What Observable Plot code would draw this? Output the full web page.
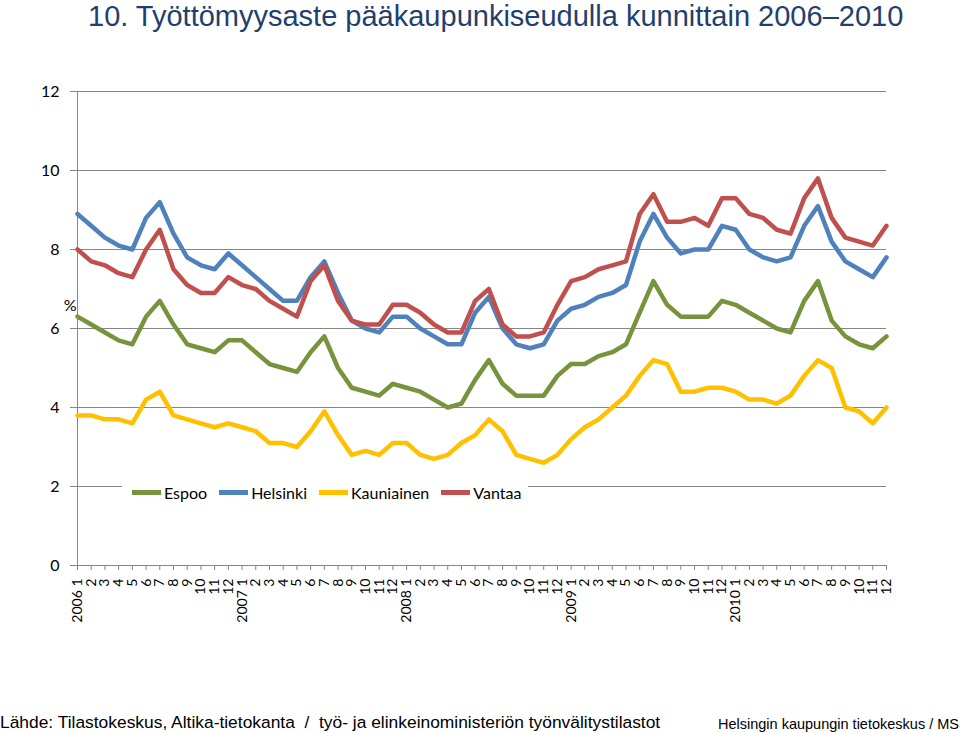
<!DOCTYPE html>
<html><head><meta charset="utf-8">
<script src="https://cdn.jsdelivr.net/npm/d3@7"></script>
<script src="https://cdn.jsdelivr.net/npm/@observablehq/plot@0.6"></script>
<style>
body{margin:0;background:#fff;width:960px;height:733px;position:relative;overflow:hidden;font-family:"Liberation Sans",Arial,sans-serif}
#title{position:absolute;left:88px;top:0;font-size:29px;line-height:32px;color:#1F3F6E;white-space:nowrap}
#chart{position:absolute;left:0;top:50px}
#legend{position:absolute;left:122px;top:479px;width:406px;height:26px;background:#fff;display:flex;align-items:center;font-family:Lato,"Open Sans",sans-serif;font-size:16px;color:#000}
.item{display:flex;align-items:center;margin-left:12px}
.item:first-child{margin-left:10px}
.sw{width:29px;height:5px;margin-right:3px}
#src{position:absolute;left:0;top:714px;font-size:17.4px;line-height:17.4px;white-space:nowrap;color:#000}
#org{position:absolute;left:718px;top:717px;font-size:14.5px;line-height:14.5px;white-space:nowrap;color:#000}
</style></head>
<body>
<div id="title">10. Työttömyysaste pääkaupunkiseudulla kunnittain 2006–2010</div>
<div id="chart"></div>
<div id="legend"></div>
<div id="src">Lähde: Tilastokeskus, Altika-tietokanta&nbsp; /&nbsp; työ- ja elinkeinoministeriön työnvälitystilastot</div>
<div id="org">Helsingin kaupungin tietokeskus / MS</div>
<script>
const years = [2006, 2007, 2008, 2009, 2010];
const months = [1,2,3,4,5,6,7,8,9,10,11,12];
const seriesNames = ["Espoo", "Helsinki", "Kauniainen", "Vantaa"];
const seriesColors = ["#77933C", "#4F81BD", "#FFC000", "#C0504D"];
const yTicks = [0, 2, 4, 6, 8, 10, 12];

const espoo = [6.3,6.1,5.9,5.7,5.6,6.3,6.7,6.1,5.6,5.5,5.4,5.7,
  5.7,5.4,5.1,5.0,4.9,5.4,5.8,5.0,4.5,4.4,4.3,4.6,
  4.5,4.4,4.2,4.0,4.1,4.7,5.2,4.6,4.3,4.3,4.3,4.8,
  5.1,5.1,5.3,5.4,5.6,6.4,7.2,6.6,6.3,6.3,6.3,6.7,
  6.6,6.4,6.2,6.0,5.9,6.7,7.2,6.2,5.8,5.6,5.5,5.8];
const helsinki = [8.9,8.6,8.3,8.1,8.0,8.8,9.2,8.4,7.8,7.6,7.5,7.9,
  7.6,7.3,7.0,6.7,6.7,7.3,7.7,6.9,6.2,6.0,5.9,6.3,
  6.3,6.0,5.8,5.6,5.6,6.4,6.8,6.0,5.6,5.5,5.6,6.2,
  6.5,6.6,6.8,6.9,7.1,8.2,8.9,8.3,7.9,8.0,8.0,8.6,
  8.5,8.0,7.8,7.7,7.8,8.6,9.1,8.2,7.7,7.5,7.3,7.8];
const kauniainen = [3.8,3.8,3.7,3.7,3.6,4.2,4.4,3.8,3.7,3.6,3.5,3.6,
  3.5,3.4,3.1,3.1,3.0,3.4,3.9,3.3,2.8,2.9,2.8,3.1,
  3.1,2.8,2.7,2.8,3.1,3.3,3.7,3.4,2.8,2.7,2.6,2.8,
  3.2,3.5,3.7,4.0,4.3,4.8,5.2,5.1,4.4,4.4,4.5,4.5,
  4.4,4.2,4.2,4.1,4.3,4.8,5.2,5.0,4.0,3.9,3.6,4.0];
const vantaa = [8.0,7.7,7.6,7.4,7.3,8.0,8.5,7.5,7.1,6.9,6.9,7.3,
  7.1,7.0,6.7,6.5,6.3,7.2,7.6,6.7,6.2,6.1,6.1,6.6,
  6.6,6.4,6.1,5.9,5.9,6.7,7.0,6.1,5.8,5.8,5.9,6.6,
  7.2,7.3,7.5,7.6,7.7,8.9,9.4,8.7,8.7,8.8,8.6,9.3,
  9.3,8.9,8.8,8.5,8.4,9.3,9.8,8.8,8.3,8.2,8.1,8.6];

const seriesValues = [espoo, helsinki, kauniainen, vantaa];
const tickLabels = years.flatMap(y => months.map(m => m === 1 ? `${y} ${m}` : `${m}`));
const data = seriesNames.flatMap((name, s) => seriesValues[s].map((v, i) => ({name, i, v})));

const chart = Plot.plot({
  width: 960, height: 650,
  marginTop: 41, marginBottom: 135, marginLeft: 77, marginRight: 74,
  style: {fontFamily: "Lato, 'Open Sans', sans-serif", fontSize: "16px", color: "#000", background: "transparent", overflow: "visible"},
  x: {type: "point", domain: d3.range(tickLabels.length), padding: 0},
  y: {domain: [0, 12]},
  color: {domain: seriesNames, range: seriesColors},
  marks: [
    Plot.ruleY(yTicks.filter(d => d > 0), {stroke: "#868686", strokeWidth: 1}),
    Plot.axisY(yTicks, {tickSize: 7, tickPadding: 11, stroke: "#868686", fontSize: 16, label: null}),
    Plot.ruleX([0], {stroke: "#868686"}),
    Plot.ruleY([0], {stroke: "#868686"}),
    Plot.axisX({tickSize: 5, tickRotate: -90, tickPadding: 8, tickFormat: i => tickLabels[i], fontSize: 14, stroke: "#868686", label: null}),
    Plot.line(data, {x: "i", y: "v", z: "name", stroke: "name", strokeWidth: 4.5, strokeLinejoin: "round", strokeLinecap: "round"}),
    Plot.text(["%"], {frameAnchor: "left", textAnchor: "end", dx: -1, dy: -23, fontSize: 16, fill: "#000"})
  ]
});
document.getElementById("chart").appendChild(chart);

const legend = document.getElementById("legend");
seriesNames.forEach((n, k) => {
  const it = document.createElement("div");
  it.className = "item";
  it.innerHTML = `<span class="sw" style="background:${seriesColors[k]}"></span><span>${n}</span>`;
  legend.appendChild(it);
});
</script>
</body></html>
